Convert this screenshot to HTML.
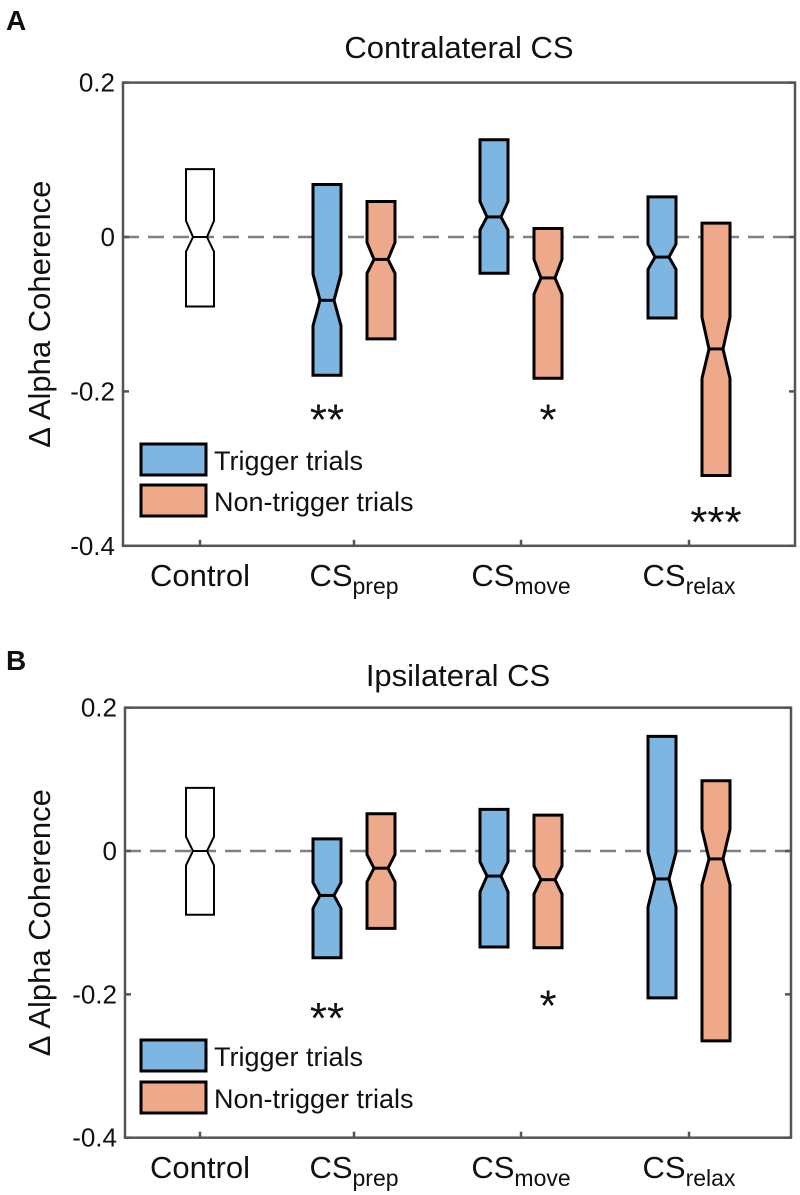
<!DOCTYPE html>
<html><head><meta charset="utf-8"><style>
html,body{margin:0;padding:0;background:#fff}
svg{display:block}
text{font-family:"Liberation Sans",sans-serif;fill:#111}
</style></head><body>
<svg id="fig" width="800" height="1195" viewBox="0 0 800 1195" xmlns="http://www.w3.org/2000/svg"></svg>
<script>
const categories = ["Control","CS","CS","CS"];
const subs = ["","prep","move","relax"];
// Panel A (contralateral) per box: [control, prep-trig, prep-non, move-trig, move-non, relax-trig, relax-non]
const aTop    = [0.088, 0.068, 0.046, 0.126, 0.011, 0.052, 0.018];
const aNotchU = [0.021,-0.048,-0.007, 0.046,-0.029,-0.009,-0.104];
const aMed    = [0.000,-0.082,-0.029, 0.026,-0.053,-0.026,-0.145];
const aNotchL = [-0.019,-0.115,-0.047,0.009,-0.074,-0.042,-0.183];
const aBot    = [-0.090,-0.179,-0.132,-0.047,-0.183,-0.105,-0.309];
// Panel B (ipsilateral)
const bTop    = [0.088, 0.017, 0.052, 0.058, 0.050, 0.160, 0.098];
const bNotchU = [0.020,-0.044,-0.005,-0.015,-0.021,-0.002, 0.030];
const bMed    = [0.000,-0.062,-0.024,-0.035,-0.040,-0.039,-0.011];
const bNotchL = [-0.020,-0.080,-0.043,-0.057,-0.060,-0.078,-0.047];
const bBot    = [-0.089,-0.149,-0.108,-0.134,-0.135,-0.205,-0.265];
const yTicks = [0.2, 0, -0.2, -0.4];
const yTickLabels = ["0.2","0","-0.2","-0.4"];
const boxCat = [0,1,1,2,2,3,3];
const boxKind = ["control","trigger","non","trigger","non","trigger","non"];
const aStars = [["**",1,"trigger",-0.222],["*",2,"non",-0.222],["***",3,"non",-0.355]];
const bStars = [["**",1,"trigger",-0.218],["*",2,"non",-0.200]];

const NS="http://www.w3.org/2000/svg";
const svg=document.getElementById('fig');
function mk(tag,attrs,parent){const e=document.createElementNS(NS,tag);for(const k in attrs)e.setAttribute(k,attrs[k]);(parent||svg).appendChild(e);return e;}
const catX=[200,354,521,689];
const fill={control:"#ffffff",trigger:"#7db6e1",non:"#eea98a"};

function panel(p){
  const g=mk('g',{});
  
  
  const yS=v=>p.y0 - v*p.k;
  const xS=(c,kind)=>catX[c]+(kind==="trigger"?-27:kind==="non"?27:0);
  let t=mk('text',{x:6,y:p.letterY,'font-size':28,'font-weight':'bold'},g);t.textContent=p.letter;
  
  t=mk('text',{x:(p.L+p.R)/2,y:p.titleY,'font-size':31,'text-anchor':'middle'},g);t.textContent=p.title;
  
  let l=mk('line',{x1:p.L,x2:p.R,y1:yS(0),y2:yS(0),stroke:'#808080','stroke-width':2.4,'stroke-dasharray':'16 9'},g);
  
  for(let i=0;i<p.top.length;i++){
    const kind=boxKind[i];const cx=xS(boxCat[i],kind);const hw=14;const nw=7;
    const yt=yS(p.top[i]),yu=yS(p.nu[i]),ym=yS(p.med[i]),yl=yS(p.nl[i]),yb=yS(p.bot[i]);
    const d=`M${cx-hw},${yt}H${cx+hw}V${yu}L${cx+nw},${ym}L${cx+hw},${yl}V${yb}H${cx-hw}V${yl}L${cx-nw},${ym}L${cx-hw},${yu}Z`;
    const b=mk('path',{d:d,fill:fill[kind],stroke:'#000','stroke-width':kind==="control"?2:3,'stroke-linejoin':'miter'},g);
    
    
    const m=mk('line',{x1:cx-nw,x2:cx+nw,y1:ym,y2:ym,stroke:'#000','stroke-width':kind==="control"?2:3},g);
    
    
  }
  const r=mk('rect',{x:p.L,y:yS(0.2),width:p.R-p.L,height:yS(-0.4)-yS(0.2),fill:'none',stroke:'#555','stroke-width':2.5},g);
  
  yTicks.forEach((v,i)=>{
    const y=yS(v);
    mk('line',{x1:p.L,x2:p.L+6,y1:y,y2:y,stroke:'#555','stroke-width':2.5},g);
    mk('line',{x1:p.R,x2:p.R-6,y1:y,y2:y,stroke:'#555','stroke-width':2.5},g);
    const tt=mk('text',{x:p.L-8,y:y+9,'font-size':26,'text-anchor':'end'},g);tt.textContent=yTickLabels[i];
    
  });
  categories.forEach((c,i)=>{
    const x=catX[i];
    mk('line',{x1:x,x2:x,y1:yS(-0.4),y2:yS(-0.4)-6,stroke:'#555','stroke-width':2.5},g);
    const tt=mk('text',{x:x,y:p.catY,'font-size':31,'text-anchor':'middle'},g);
    
    tt.appendChild(document.createTextNode(c));
    if(subs[i]){const s=document.createElementNS(NS,'tspan');s.setAttribute('font-size',23);s.setAttribute('dy',8);s.textContent=subs[i];tt.appendChild(s);}
  });
  const ya=mk('text',{x:0,y:0,'font-size':31,'text-anchor':'middle',transform:`translate(50,${(yS(0.2)+yS(-0.4))/2}) rotate(-90)`},g);
  ya.textContent="Δ Alpha Coherence";
  
  p.stars.forEach(s=>{
    const tt=mk('text',{x:xS(s[1],s[2]),y:yS(s[3])+26,'font-size':44,'text-anchor':'middle'},g);tt.textContent=s[0];
    
  });
  [["Trigger trials",'trigger'],["Non-trigger trials",'non']].forEach((e,i)=>{
    const y=p.legY+i*p.legGap;
    const sw=mk('rect',{x:141,y:y,width:65,height:31,fill:fill[e[1]],stroke:'#000','stroke-width':3},g);
    
    const tt=mk('text',{x:214,y:y+26,'font-size':27},g);tt.textContent=e[0];
    
  });
}
panel({name:'panel-a',letter:'A',letterY:30,title:'Contralateral CS',titleY:58,L:123,R:795,y0:237,k:772,
  top:aTop,nu:aNotchU,med:aMed,nl:aNotchL,bot:aBot,catY:586,stars:aStars,legY:444,legGap:41});
panel({name:'panel-b',letter:'B',letterY:670,title:'Ipsilateral CS',titleY:686,L:125,R:791,y0:851,k:716.7,
  top:bTop,nu:bNotchU,med:bMed,nl:bNotchL,bot:bBot,catY:1178,stars:bStars,legY:1040,legGap:42});
</script>
</body></html>
